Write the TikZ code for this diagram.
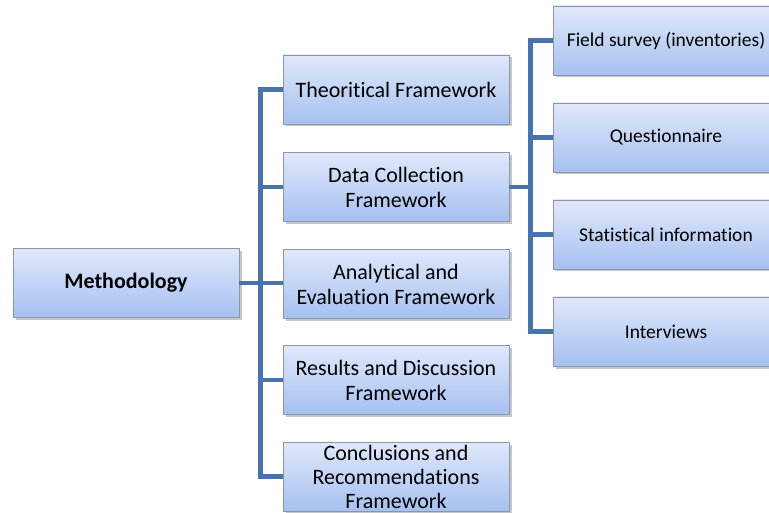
\documentclass[tikz,border=0pt]{standalone}
\usepackage{fontspec}
\setmainfont[Ligatures=NoCommon]{Carlito}
\usetikzlibrary{shadows}

\definecolor{boxtop}{HTML}{E0E8FB}
\definecolor{boxbottom}{HTML}{A6C0F0}
\definecolor{boxline}{HTML}{8C96A6}
\definecolor{linkblue}{HTML}{4A72AC}

\tikzset{
	box/.style = {draw=boxline, line width=0.8pt, top color=boxtop,
		bottom color=boxbottom, minimum width=226pt, minimum height=69pt,
		inner sep=0pt, align=center, font=\fontsize{22}{25}\selectfont,
		drop shadow={opacity=0.45, shadow xshift=2.5pt, shadow yshift=-2.5pt}},
	subbox/.style = {box, font=\fontsize{19.5}{23}\selectfont},
	link/.style = {draw=linkblue, line width=4.5pt}
}

\begin{document}
\begin{tikzpicture}[x=1pt,y=-1pt]
		\useasboundingbox (0,0) rectangle (769,513);

		\node[box, font=\fontsize{22}{25}\selectfont\bfseries] (method) at (126,283)
			{Methodology};

		\node[box] (theory) at (396,89.5) {Theoritical Framework};
		\node[box] (data) at (396,187) {Data Collection\\Framework};
		\node[box] (analysis) at (396,284) {Analytical and\\Evaluation Framework};
		\node[box] (results) at (396,380) {Results and Discussion\\Framework};
		\node[box, font=\fontsize{22}{24}\selectfont] (conclusions) at (396,476.5)
			{Conclusions and\\Recommendations\\Framework};

		\node[subbox] (field) at (666,40.5) {Field survey (inventories)};
		\node[subbox] (quest) at (666,137.5) {Questionnaire};
		\node[subbox] (stats) at (666,234.5) {Statistical information};
		\node[subbox] (interviews) at (666,331.5) {Interviews};

		\draw[link] (method.east) -- (method.east -| analysis.west);
		\draw[link] (theory.west) -- ++(-22,0) |- (conclusions.west);
		\draw[link] (data.west) -- ++(-22,0);
		\draw[link] (results.west) -- ++(-22,0);

		\draw[link] (data.east) -- ++(23,0);
		\draw[link] (field.west) -- ++(-22,0) |- (interviews.west);
		\draw[link] (quest.west) -- ++(-22,0);
		\draw[link] (stats.west) -- ++(-22,0);
	\end{tikzpicture}
\end{document}
